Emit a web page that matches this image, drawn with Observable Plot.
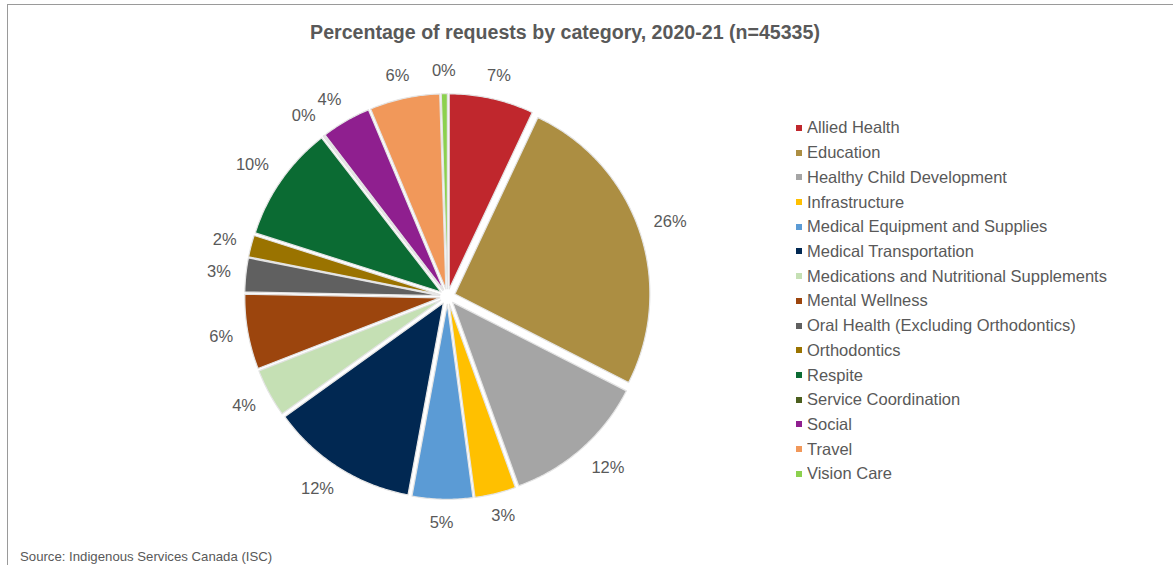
<!DOCTYPE html>
<html>
<head>
<meta charset="utf-8">
<script src="https://cdn.jsdelivr.net/npm/d3@7"></script>
<script src="https://cdn.jsdelivr.net/npm/@observablehq/plot@0.6"></script>
<style>
  html, body { margin: 0; padding: 0; background: #fff; overflow: hidden; }
  body { font-family: "Liberation Sans", Arial, Helvetica, sans-serif; }
  #wrap { position: relative; width: 1173px; height: 565px; overflow: hidden; background: #fff; }
  #frame { position: absolute; left: 7px; top: 4px; width: 1300px; height: 700px; border-left: 1.5px solid #9a9a9a; border-top: 1.5px solid #9a9a9a; }
  #title { position: absolute; left: 0; width: 1130px; top: 21px; text-align: center; font-size: 19.6px; font-weight: bold; color: #595959; z-index: 2; }
  #pie { position: absolute; left: 177px; top: 26px; z-index: 1; }
  #legend { position: absolute; left: 796px; top: 115.5px; z-index: 2; }
  #legend, #legend * { font-family: "Liberation Sans", Arial, sans-serif !important; font-size: 16.5px !important; color: #595959 !important; }
  #legend div[class$="-swatch"] { height: 24.72px; padding: 0 !important; margin: 0 !important; display: flex; align-items: center; }
  #legend svg { margin-right: 5px !important; }
  #source { position: absolute; left: 20px; top: 549px; font-size: 13.2px; color: #595959; z-index: 2; }
</style>
</head>
<body>
<div id="wrap">
  <div id="frame"></div>
  <div id="pie"></div>
  <div id="title">Percentage of requests by category, 2020-21 (n=45335)</div>
  <div id="legend"></div>
  <div id="source">Source: Indigenous Services Canada (ISC)</div>
</div>
<script>
const categories = [
  "Allied Health", "Education", "Healthy Child Development", "Infrastructure",
  "Medical Equipment and Supplies", "Medical Transportation",
  "Medications and Nutritional Supplements", "Mental Wellness",
  "Oral Health (Excluding Orthodontics)", "Orthodontics", "Respite",
  "Service Coordination", "Social", "Travel", "Vision Care"
];
const shares = [7.0, 25.5, 12.0, 3.4, 5.0, 12.2, 4.0, 6.2, 2.8, 1.8, 9.6, 0.1, 4.1, 5.8, 0.5];
const labels = ["7%", "26%", "12%", "3%", "5%", "12%", "4%", "6%", "3%", "2%", "10%", "0%", "4%", "6%", "0%"];
const colors = [
  "#C0272D", "#AC8E42", "#A5A5A5", "#FFC000", "#5B9BD5", "#012852",
  "#C5E0B4", "#9C450D", "#606060", "#9A7300", "#0B6B33", "#4B5E1E",
  "#8F1F8F", "#F1985A", "#8CD14E"
];

const rows = categories.map((cat, i) => ({cat, share: shares[i], label: labels[i]}));
const arcs = d3.pie().sort(null).value(d => d.share)(rows);

const PX = 195;          // pixels per unit
const R = 1;             // pie radius (unit)
const explode = 0.04;    // radial offset of each slice
const half = 270 / PX;   // half extent of the square plot in units
const labelFont = 16.5;
const labelGap = 15 / PX;   // gap between rim and label box
const labelHalfH = 8 / PX;  // half label box height

const pts = [];
arcs.forEach(a => {
  const mid = (a.startAngle + a.endAngle) / 2;
  const cx = explode * Math.sin(mid), cy = explode * Math.cos(mid);
  pts.push({cat: a.data.cat, x: cx, y: cy});
  const n = Math.max(2, Math.ceil((a.endAngle - a.startAngle) / 0.01));
  for (let k = 0; k <= n; k++) {
    const t = a.startAngle + (a.endAngle - a.startAngle) * k / n;
    pts.push({cat: a.data.cat, x: cx + R * Math.sin(t), y: cy + R * Math.cos(t)});
  }
  pts.push({cat: a.data.cat, x: cx, y: cy});
});

// "outside end" labels: box pushed out beyond a point a fixed gap past the rim
const clamp = v => Math.max(-1, Math.min(1, v));
const labelPts = arcs.map(a => {
  const mid = (a.startAngle + a.endAngle) / 2;
  const s = Math.sin(mid), c = Math.cos(mid);
  const txt = a.data.label;
  const wpx = labelFont * (0.556 * (txt.length - 1) + 0.889);
  const hw = wpx / 2 / PX;
  const d = R + explode + labelGap;
  return {label: txt, x: d * s + hw * clamp(1.5 * s), y: d * c + labelHalfH * clamp(1.5 * c)};
});

const plot = Plot.plot({
  width: 540,
  height: 540,
  margin: 0,
  style: {background: "transparent", fontFamily: "Liberation Sans, Arial, sans-serif"},
  x: {domain: [-half, half], axis: null},
  y: {domain: [-half, half], axis: null},
  color: {domain: categories, range: colors},
  marks: [
    Plot.line(pts, {x: "x", y: "y", z: "cat", fill: "cat", stroke: "#e4e4e4", strokeWidth: 1.2, curve: "linear"}),
    Plot.text(labelPts, {x: "x", y: "y", text: "label", fontSize: labelFont, fill: "#595959"})
  ]
});
document.getElementById("pie").appendChild(plot);

const legend = plot.legend("color", {legend: "swatches", columns: 1, swatchSize: 6});
document.getElementById("legend").appendChild(legend);
</script>
</body>
</html>
